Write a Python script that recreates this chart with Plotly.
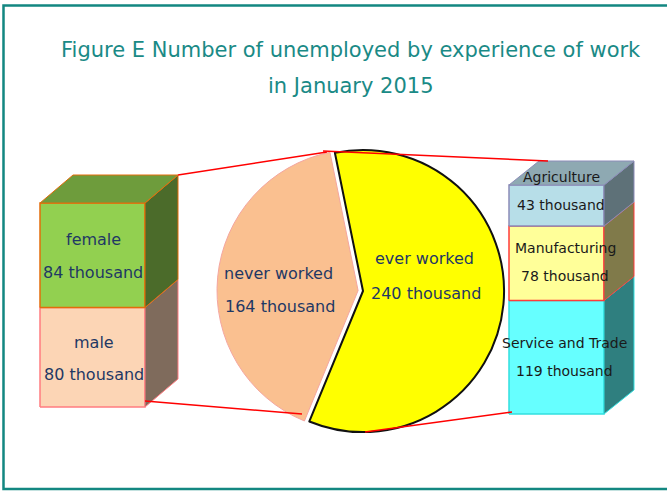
import plotly.graph_objects as go

# ---------------- data ----------------
pie_labels = ["ever worked", "never worked"]
pie_values = [240, 164]
pie_colors = ["#FFFF00", "#FAC090"]

sex_labels = ["male", "female"]
sex_values = [80, 84]

ind_labels = ["Service and Trade", "Manufacturing", "Agriculture"]
ind_values = [119, 78, 43]

title_lines = ["Figure E Number of unemployed by experience of work", "in January 2015"]

W, H = 668, 491
FONT = "DejaVu Sans"

fig = go.Figure()


def box3d(x0, x1, base, scale, dx, dy, values, labels, fronts, sides, top_col, outlines,
          text_color, text_size, label_offsets):
    y = base
    n = len(values)
    for i, (v, lab) in enumerate(zip(values, labels)):
        yt = y - v * scale
        fig.add_trace(go.Scatter(x=[x0, x1, x1, x0, x0], y=[y, y, yt, yt, y], mode="lines",
                                 fill="toself", fillcolor=fronts[i],
                                 line=dict(color=outlines[i], width=1.5), hoverinfo="skip",
                                 showlegend=False))
        fig.add_trace(go.Scatter(x=[x1, x1 + dx, x1 + dx, x1, x1],
                                 y=[y, y + dy, yt + dy, yt, y], mode="lines",
                                 fill="toself", fillcolor=sides[i],
                                 line=dict(color=outlines[i], width=1), hoverinfo="skip",
                                 showlegend=False))
        if i == n - 1:
            fig.add_trace(go.Scatter(x=[x0, x1, x1 + dx, x0 + dx, x0],
                                     y=[yt, yt, yt + dy, yt + dy, yt], mode="lines",
                                     fill="toself", fillcolor=top_col,
                                     line=dict(color=outlines[i], width=1), hoverinfo="skip",
                                     showlegend=False))
        ym = (y + yt) / 2
        o1, o2, cx = label_offsets[i]
        fig.add_annotation(x=cx, y=ym + o1, text=lab, showarrow=False,
                           font=dict(family=FONT, size=text_size, color=text_color))
        fig.add_annotation(x=cx, y=ym + o2, text=f"{v} thousand", showarrow=False,
                           font=dict(family=FONT, size=text_size, color=text_color))
        y = yt
    return y


# left box (sex)
L_x0, L_x1, L_base = 40, 145, 407
L_scale = 204 / sum(sex_values)
L_dx, L_dy = 33, -28
L_top = box3d(L_x0, L_x1, L_base, L_scale, L_dx, L_dy, sex_values, sex_labels,
              ["#FCD5B5", "#92D050"], ["#7F6B5C", "#4B6B2A"], "#6E9C3C",
              ["#FF7C80", "#E46C0A"], "#1F3864", 16,
              [(-15, 17, 94), (-16, 17, 93)])

# right box (industry)
R_x0, R_x1, R_base = 509, 604, 414
R_scale = 229 / sum(ind_values)
R_dx, R_dy = 30, -24
R_top = box3d(R_x0, R_x1, R_base, R_scale, R_dx, R_dy, ind_values, ind_labels,
              ["#66FFFF", "#FFFF99", "#B7DEE8"], ["#2F7F7F", "#807A4A", "#5E7178"], "#8EA9B2",
              ["#33E0E0", "#FF3B3B", "#8C8CB8"], "#1A1A1A", 14,
              [(-14, 14, 564), (-15, 13, 565), (-29, -1, 561)])

# pie
fig.add_trace(go.Pie(labels=pie_labels, values=pie_values, sort=False, direction="clockwise",
                     rotation=-11.5, pull=[0, 0.035], textinfo="none", hoverinfo="label+value",
                     marker=dict(colors=pie_colors, line=dict(color=["#111111", "#F4A6A0"], width=[2, 1])),
                     domain=dict(x=[217 / W, 509 / W],
                                 y=[(H - 437) / H, (H - 145) / H]),
                     showlegend=False))

pie_text_pos = {"ever worked": (424, 258, 293), "never worked": (278, 273, 306)}
for lab, v in zip(pie_labels, pie_values):
    cx, y1, y2 = pie_text_pos[lab]
    fig.add_annotation(x=cx, y=y1, text=lab, showarrow=False,
                       font=dict(family=FONT, size=16, color="#1F3864"))
    fig.add_annotation(x=cx + 2, y=y2, text=f"{v} thousand", showarrow=False,
                       font=dict(family=FONT, size=16, color="#1F3864"))

# connector lines
red = dict(color="#FF0000", width=1.5)
fig.add_shape(type="line", x0=L_x1 + L_dx, y0=L_top + L_dy, x1=327, y1=152, line=red)
fig.add_shape(type="line", x0=L_x1, y0=L_base - 6, x1=302, y1=414, line=red)
fig.add_shape(type="line", x0=323, y0=151, x1=R_x0 + R_dx + 9, y1=R_top + R_dy, line=red)
fig.add_shape(type="line", x0=365, y0=432, x1=R_x0 + 3, y1=R_base - 2, line=red)

# frame (open on the right)
teal = "#138781"
fig.add_shape(type="path", path=f"M {W - 1},5.5 L 3.5,5.5 L 3.5,489 L {W - 1},489",
              line=dict(color=teal, width=2.5))

# title
fig.add_annotation(x=351, y=50, text=title_lines[0], showarrow=False,
                   font=dict(family=FONT, size=21, color="#1A8A86"))
fig.add_annotation(x=351, y=86, text=title_lines[1], showarrow=False,
                   font=dict(family=FONT, size=21, color="#1A8A86"))

fig.update_xaxes(range=[0, W], visible=False, fixedrange=True)
fig.update_yaxes(range=[H, 0], visible=False, fixedrange=True)
fig.update_layout(width=W, height=H, margin=dict(l=0, r=0, t=0, b=0),
                  paper_bgcolor="white", plot_bgcolor="white")

fig.write_html("out.html", config={"displayModeBar": False},
               post_script="document.body.style.margin='0px';document.body.style.overflow='hidden';")
